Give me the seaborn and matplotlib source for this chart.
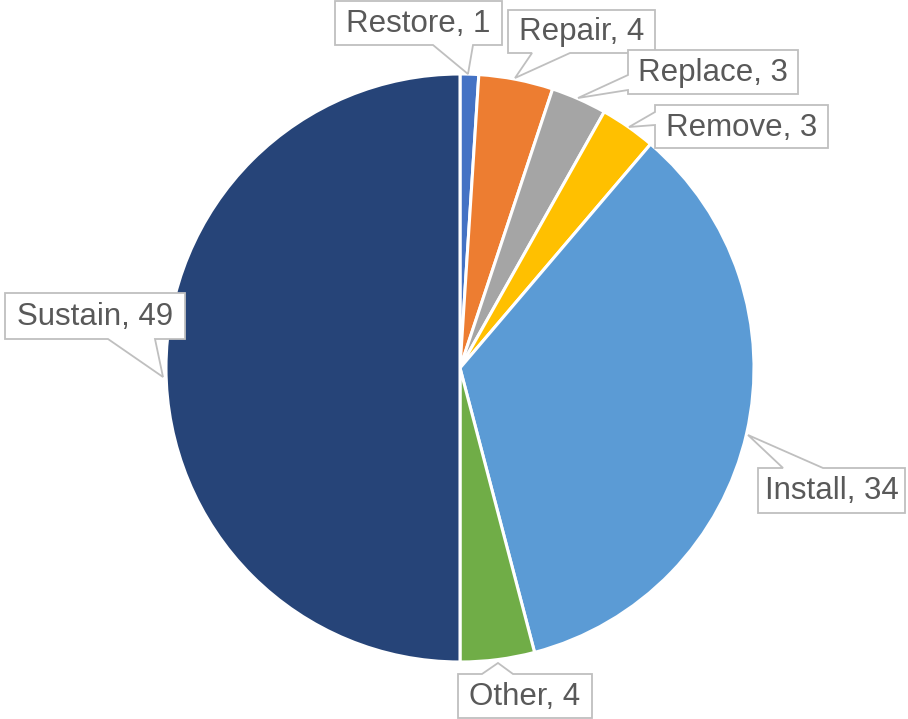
import matplotlib
matplotlib.use('Agg')
import matplotlib.pyplot as plt
from matplotlib.patches import Polygon
import seaborn as sns

# -------------------------------
# Data
# -------------------------------
labels = ["Restore", "Repair", "Replace", "Remove", "Install", "Other", "Sustain"]
values = [1, 4, 3, 3, 34, 4, 49]
colors = ["#4472C4", "#ED7D31", "#A5A5A5", "#FFC000", "#5B9BD5", "#70AD47", "#264478"]

# -------------------------------
# Callout layout (pixels of the 908x719 image)
# box = (left, top, right, bottom), tail = (edge, base start, base end, tip)
# -------------------------------
boxes = [(335, 1, 502, 45), (508, 10, 655, 53), (628, 50, 798, 94), (655, 105, 828, 148),
         (758, 468, 905, 513), (458, 674, 592, 718), (5, 293, 185, 339)]
tails = [("bottom", 433, 473, (468, 74)), ("bottom", 532, 570, (515, 78)),
         ("left", 75, 90, (578, 98)), ("left", 112, 125, (629, 127)),
         ("top", 783, 823, (748, 435)), ("top", 482, 513, (498, 663)),
         ("bottom", 108, 155, (163, 377))]

sns.set_theme(style="white")
plt.rcParams['font.family'] = ['Liberation Sans', 'DejaVu Sans']

W, H = 908, 719
CX, CY, R = 460, 368, 294


def to_data(p):
    return ((p[0] - CX) / R, (CY - p[1]) / R)


def callout(box, tail):
    x0, y0, x1, y1 = box
    edge, b0, b1, tip = tail
    pts = [(x0, y0)]
    if edge == "top":
        pts += [(b0, y0), tip, (b1, y0)]
    pts += [(x1, y0), (x1, y1)]
    if edge == "bottom":
        pts += [(b1, y1), tip, (b0, y1)]
    pts += [(x0, y1)]
    if edge == "left":
        pts += [(x0, b1), tip, (x0, b0)]
    return [to_data(p) for p in pts]


fig = plt.figure(figsize=(W / 100, H / 100), dpi=100)
ax = fig.add_axes([0, 0, 1, 1])

ax.pie(values, colors=colors, startangle=90, counterclock=False,
       wedgeprops=dict(edgecolor="white", linewidth=2.2), radius=1)

for i, (lab, v, b, t) in enumerate(zip(labels, values, boxes, tails)):
    ax.add_patch(Polygon(callout(b, t), closed=True, fc="white", ec="#BFBFBF",
                         lw=1.3, zorder=4 + i * 0.1))
    cx, cy = to_data(((b[0] + b[2]) / 2, (b[1] + b[3]) / 2 + 1))
    ax.text(cx, cy, f"{lab}, {v}", ha="center", va="center", fontsize=22.5,
            color="#595959", zorder=4.05 + i * 0.1)

ax.set_xlim(-CX / R, (W - CX) / R)
ax.set_ylim(-(H - CY) / R, CY / R)
ax.set_aspect("auto")
ax.axis("off")

fig.savefig("out.png", dpi=100)
